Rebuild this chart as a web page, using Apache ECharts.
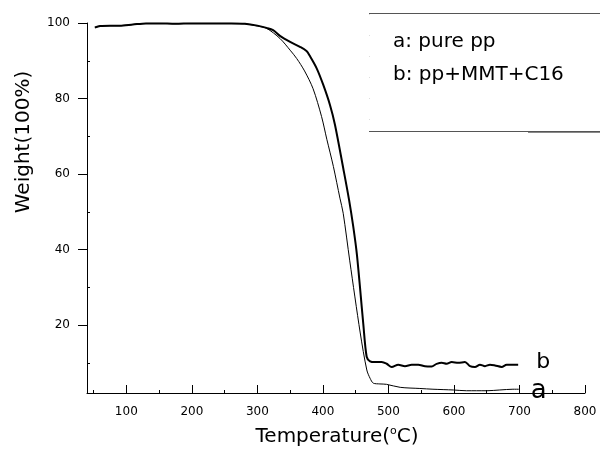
<!DOCTYPE html>
<html>
<head>
<meta charset="utf-8">
<script src="https://cdn.jsdelivr.net/npm/echarts@6/dist/echarts.min.js"></script>
<style>
html,body{margin:0;padding:0;background:#fff;}
#chart{width:600px;height:451px;}
</style>
</head>
<body>
<div id="chart"></div>
<script>
// ---- data ----
const tempA = [52, 60, 75, 90, 110, 130, 150, 175, 200, 230, 260, 281, 300, 314, 334.5, 350, 360, 372, 385, 398, 406, 416, 426, 431, 441, 457, 467, 472, 477, 487, 497, 518, 548, 568, 599, 619, 650, 670, 690, 699];
const weightA = [98.8, 99.2, 99.3, 99.3, 99.6, 99.9, 99.9, 99.8, 99.9, 99.9, 99.9, 99.8, 99.2, 98.6, 95.9, 92.8, 90.6, 87.3, 82.6, 75.2, 69.2, 62.0, 53.6, 49.6, 37.0, 17.9, 8.1, 5.9, 4.6, 4.4, 4.3, 3.5, 3.2, 3.0, 2.8, 2.6, 2.6, 2.8, 3.0, 3.0];

const tempB = [52, 60, 75, 90, 110, 130, 150, 175, 200, 230, 260, 281, 300, 314, 324, 334.5, 350, 365, 375, 380, 390.5, 400.6, 410.8, 418.5, 431, 440, 446.4, 452, 461.6, 466.8, 472, 479.5, 489.7, 497.3, 505, 515, 525.3, 535.5, 545.6, 555.8, 566, 573.6, 581.3, 588.9, 596.5, 606.6, 616.8, 624.5, 632.1, 639.7, 647.4, 655, 662.6, 672.8, 680.5, 688, 698];
const weightB = [98.8, 99.2, 99.3, 99.3, 99.6, 99.9, 99.9, 99.8, 99.9, 99.9, 99.9, 99.8, 99.3, 98.7, 98.1, 96.6, 95.0, 93.7, 92.6, 91.3, 88.0, 83.6, 78.3, 73.0, 61.6, 53.1, 46.0, 38.5, 20.4, 11.6, 10.4, 10.2, 10.2, 9.75, 8.9, 9.5, 9.1, 9.5, 9.5, 9.1, 9.05, 9.7, 10.0, 9.75, 10.2, 10.0, 10.2, 9.1, 8.9, 9.5, 9.1, 9.5, 9.3, 8.9, 9.5, 9.5, 9.5];

const xMajorTicks = [100, 200, 300, 400, 500, 600, 700, 800];
const xMinorTicks = [50, 150, 250, 350, 450, 550, 650, 750];
const yMajorTicks = [20, 40, 60, 80, 100];
const yMinorTicks = [10, 30, 50, 70, 90];
const legendLines = ['a: pure pp', 'b: pp+MMT+C16'];
const curveLabels = ['a', 'b'];

const FONT = 'DejaVu Sans';
const zip = (xs, ys) => xs.map((x, i) => [x, ys[i]]);

const chart = echarts.init(document.getElementById('chart'), null, {renderer: 'canvas'});

const option = {
  animation: false,
  backgroundColor: '#fff',
  grid: {left: 87, right: 15, top: 23, bottom: 58, containLabel: false},
  xAxis: [{
    type: 'value', min: 40, max: 800,
    axisLine: {show: true, lineStyle: {color: '#000', width: 1}},
    axisTick: {show: true, inside: true, length: 8, customValues: xMajorTicks, lineStyle: {color: '#000'}},
    axisLabel: {show: true, customValues: xMajorTicks, margin: 13, color: '#000', fontFamily: FONT, fontSize: 12},
    splitLine: {show: false}
  }, {
    type: 'value', min: 40, max: 800, position: 'bottom', offset: 0,
    axisLine: {show: false},
    axisTick: {show: true, inside: true, length: 3, customValues: xMinorTicks, lineStyle: {color: '#000'}},
    axisLabel: {show: false},
    splitLine: {show: false}
  }],
  yAxis: [{
    type: 'value', min: 2, max: 100,
    axisLine: {show: true, lineStyle: {color: '#000', width: 1}},
    axisTick: {show: true, inside: false, length: 9, customValues: yMajorTicks, lineStyle: {color: '#000'}},
    axisLabel: {show: true, customValues: yMajorTicks, margin: 17, color: '#000', fontFamily: FONT, fontSize: 12},
    splitLine: {show: false}
  }, {
    type: 'value', min: 2, max: 100, position: 'left', offset: 0,
    axisLine: {show: false},
    axisTick: {show: true, inside: true, length: 3, customValues: yMinorTicks, lineStyle: {color: '#000'}},
    axisLabel: {show: false},
    splitLine: {show: false}
  }],
  series: [{
    name: 'a', type: 'line', xAxisIndex: 0, yAxisIndex: 0,
    data: zip(tempA, weightA), showSymbol: false, symbol: 'none',
    smooth: 0.3,
    lineStyle: {color: '#000', width: 1},
    endLabel: {show: true, formatter: curveLabels[0], color: '#000', fontFamily: FONT, fontSize: 26, distance: 12, offset: [0, 2]}
  }, {
    name: 'b', type: 'line', xAxisIndex: 0, yAxisIndex: 0,
    data: zip(tempB, weightB), showSymbol: false, symbol: 'none',
    smooth: 0.3,
    lineStyle: {color: '#000', width: 2},
    endLabel: {show: true, formatter: curveLabels[1], color: '#000', fontFamily: FONT, fontSize: 22, distance: 18, offset: [0, -2]}
  }],
  graphic: [
    // axis titles
    {type: 'text', x: 337, y: 437, style: {text: 'Temperature({sup|o}C)', fill: '#000', font: '20px "DejaVu Sans"', align: 'center', verticalAlign: 'middle',
      rich: {sup: {fontSize: 11, fontFamily: FONT, fill: '#000', padding: [0, 0, 12, 0]}}}},
    {type: 'text', x: 24, y: 142, rotation: Math.PI / 2, style: {text: 'Weight(100%)', fill: '#000', font: '20px "DejaVu Sans"', align: 'center', verticalAlign: 'middle'}},
    // legend box
    {type: 'line', shape: {x1: 369, y1: 13.5, x2: 600, y2: 13.5}, style: {stroke: '#555', lineWidth: 1}},
    {type: 'line', shape: {x1: 369, y1: 131.5, x2: 600, y2: 131.5}, style: {stroke: '#555', lineWidth: 1}},
    {type: 'line', shape: {x1: 528, y1: 132.5, x2: 600, y2: 132.5}, style: {stroke: '#888', lineWidth: 1}},
    {type: 'line', shape: {x1: 369.5, y1: 14, x2: 369.5, y2: 131}, style: {stroke: '#ddd', lineWidth: 1, lineDash: [1, 20]}},
    {type: 'text', x: 393, y: 42, style: {text: legendLines[0], fill: '#000', font: '20px "DejaVu Sans"', align: 'left', verticalAlign: 'middle'}},
    {type: 'text', x: 393, y: 74.5, style: {text: legendLines[1], fill: '#000', font: '20px "DejaVu Sans"', align: 'left', verticalAlign: 'middle'}}
  ]
};
chart.setOption(option);
</script>
</body>
</html>
